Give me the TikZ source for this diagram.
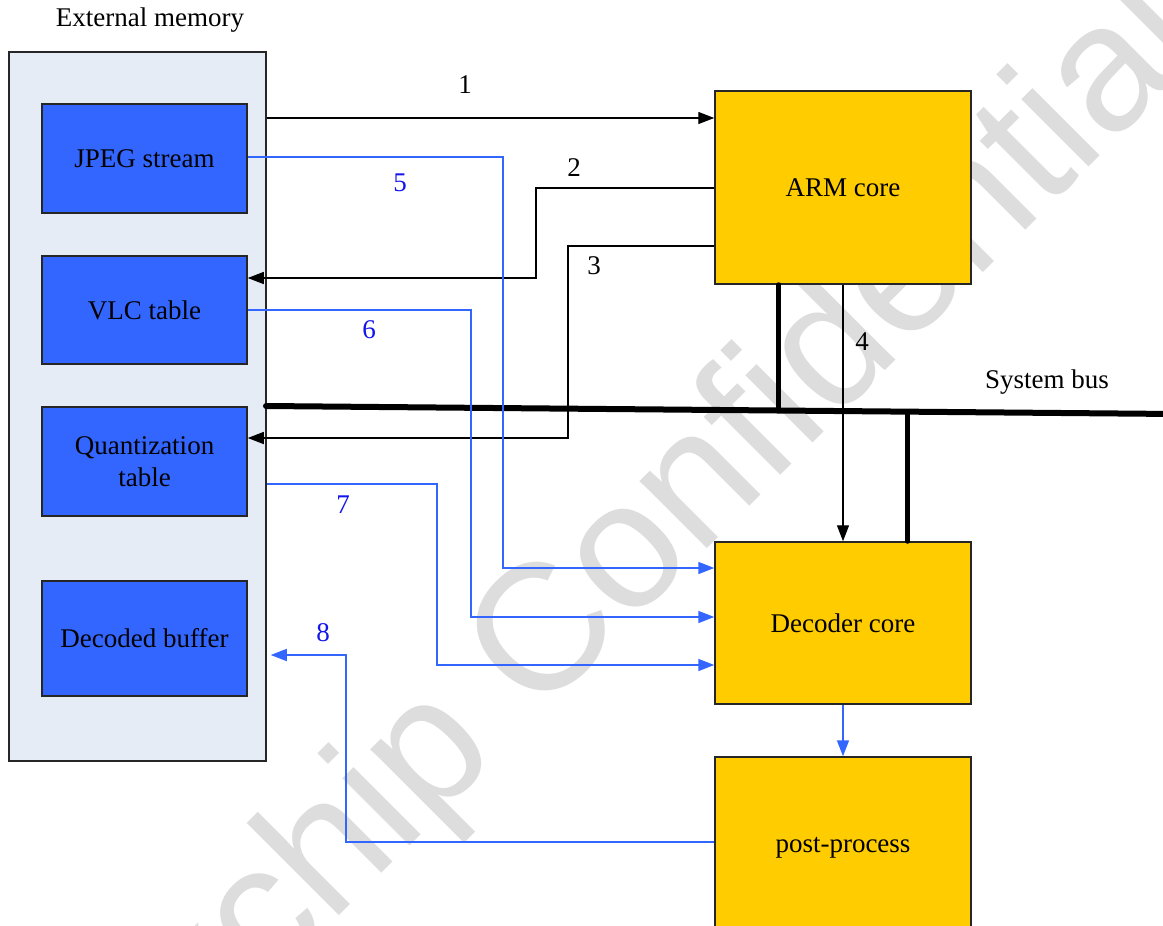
\documentclass[tikz,border=0pt]{standalone}
\usepackage{fontspec}
\setmainfont{Liberation Serif}
\newfontfamily\wmfont{Liberation Sans}
\usetikzlibrary{arrows.meta,calc}
\definecolor{memfill}{RGB}{230,236,246}
\definecolor{bluebox}{RGB}{51,102,255}
\definecolor{corefill}{RGB}{255,204,0}
\definecolor{flowblue}{RGB}{51,102,255}
\definecolor{numblue}{RGB}{20,20,235}
\definecolor{wmgray}{RGB}{221,221,221}
\begin{document}
\begin{tikzpicture}[x=0.5pt,y=-0.5pt,
  font=\fontsize{13.5}{16}\selectfont,
  outerbox/.style={draw=black!85, line width=0.75pt, fill=memfill, inner sep=0,
    minimum width=128.5pt, minimum height=354.5pt},
  membox/.style={draw=black!85, line width=0.75pt, fill=bluebox, inner sep=0,
    minimum width=102.5pt, align=center},
  core/.style={draw=black!85, line width=0.75pt, fill=corefill, inner sep=0,
    minimum width=128pt},
  blk/.style={draw=black, line width=0.7pt},
  flow/.style={draw=flowblue, line width=0.8pt},
  tip/.style={-{Triangle[length=8pt,width=6pt]}},
  num/.style={inner sep=0},
  bnum/.style={inner sep=0, text=numblue},
  bus/.style={draw=black, line width=3pt, line cap=round},
  branch/.style={draw=black, line width=2.5pt, line cap=round}]
\clip (0,0) rectangle (1163,926);
\fill[white] (0,0) rectangle (1163,926);

% watermark
\node[rotate=45, text=wmgray, inner sep=0, font=\wmfont\fontsize{90}{90}\selectfont] (wm) at (560,630) {Rockchip Confidential};

% external memory
\node (extlabel) at (150,20) {External memory};
\node[outerbox] (ext) at (137.5,406.5) {};
\node[membox, minimum height=54.5pt] (jpeg) at (144.5,158.5) {JPEG stream};
\node[membox, minimum height=54pt] (vlc) at (144.5,310) {VLC table};
\node[membox, minimum height=54.5pt] (quant) at (144.5,461.5) {Quantization\\table};
\node[membox, minimum height=57.5pt] (decbuf) at (144.5,638.5) {Decoded buffer};

% cores
\node[core, minimum height=96.5pt] (arm) at (843,187.5) {ARM core};
\node[core, minimum height=81pt] (dec) at (843,623) {Decoder core};
\node[core, minimum height=91pt] (post) at (843,848) {post-process};

% system bus
\coordinate (busL) at (266,406);
\coordinate (busR) at (1175,414);
\draw[bus] (busL) -- (busR);
\node (buslabel) at (1047,382) {System bus};
\coordinate (b1) at ($(busL)!(779,410)!(busR)$);
\coordinate (b2) at ($(busL)!(908,412)!(busR)$);
\draw[branch] (arm.south -| b1) -- (b1);
\draw[branch] (b2) -- (dec.north -| b2);

% black control flows
\draw[blk,tip] (ext.east |- 0,118) -- (arm.west |- 0,118);
\node[num] (n1) at (465,85) {1};
\draw[blk,tip] (arm.west |- 0,188) -| (536,278) -- (vlc.east |- 0,278);
\node[num] (n2) at (574,168) {2};
\draw[blk,tip] (arm.west |- 0,246) -| (568,438) -- (quant.east |- 0,438);
\node[num] (n3) at (594,266) {3};
\draw[blk,tip] (arm.south) -- (dec.north);
\node[num] (n4) at (862,342) {4};

% blue data flows
\draw[flow,tip] (jpeg.east |- 0,157) -| (503,568) -- (dec.west |- 0,568);
\node[bnum] (n5) at (400,183) {5};
\draw[flow,tip] (vlc.east |- 0,310) -| (471,617) -- (dec.west |- 0,617);
\node[bnum] (n6) at (369,330) {6};
\draw[flow,tip] (ext.east |- 0,484) -| (437,665) -- (dec.west |- 0,665);
\node[bnum] (n7) at (343,505) {7};
\draw[flow,tip] (post.west |- 0,842) -| (346,655) -- ([xshift=2pt]ext.east |- 0,655);
\node[bnum] (n8) at (323,633) {8};
\draw[flow,tip] (dec.south) -- (post.north);
\end{tikzpicture}
\end{document}
